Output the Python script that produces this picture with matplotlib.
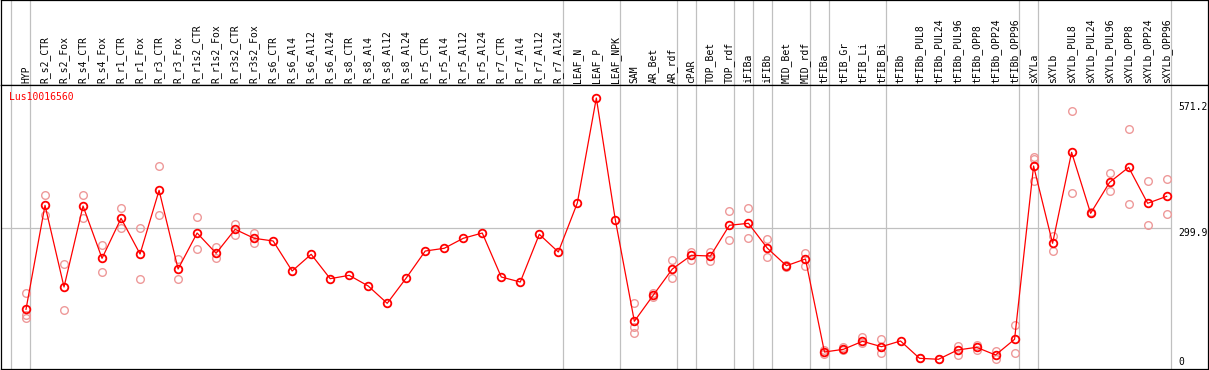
#発現プロファイル　Lus10016560

import matplotlib.pyplot as plt
import numpy as np

#データ
labels = ["HYP",
          "R_s2_CTR", "R_s2_Fox", "R_s4_CTR", "R_s4_Fox", "R_r1_CTR", "R_r1_Fox",
          "R_r3_CTR", "R_r3_Fox", "R_r1s2_CTR", "R_r1s2_Fox", "R_r3s2_CTR", "R_r3s2_Fox",
          "R_s6_CTR", "R_s6_Al4", "R_s6_Al12", "R_s6_Al24",
          "R_s8_CTR", "R_s8_Al4", "R_s8_Al12", "R_s8_Al24",
          "R_r5_CTR", "R_r5_Al4", "R_r5_Al12", "R_r5_Al24",
          "R_r7_CTR", "R_r7_Al4", "R_r7_Al12", "R_r7_Al24",
          "LEAF_N", "LEAF_P", "LEAF_NPK",
          "SAM", "AR_Bet", "AR_rdf",
          "cPAR",
          "TOP_Bet", "TOP_rdf",
          "iFIBa",
          "iFIBb",
          "MID_Bet", "MID_rdf",
          "tFIBa",
          "tFIB_Gr", "tFIB_Li", "tFIB_Bi",
          "tFIBb", "tFIBb_PUL8", "tFIBb_PUL24", "tFIBb_PUL96",
          "tFIBb_OPP8", "tFIBb_OPP24", "tFIBb_OPP96",
          "sXYLa",
          "sXYLb", "sXYLb_PUL8", "sXYLb_PUL24", "sXYLb_PUL96",
          "sXYLb_OPP8", "sXYLb_OPP24", "sXYLb_OPP96"]

#グループの大きさ（区切り線の位置）
group_sizes = [1, 28, 3, 3, 1, 2, 1, 1, 2, 1, 3, 7, 1, 7]

#平均値
mean_values = [131.3,
               347.8, 177.7, 346.3, 237.4, 320.7, 246.4,
               379.0, 215.2, 290.1, 247.9, 297.8, 279.1,
               273.5, 211.0, 245.8, 195.0,
               202.0, 179.8, 143.7, 196.4,
               252.6, 258.3, 279.1, 290.1,
               198.5, 188.1, 287.4, 250.6,
               352.6, 571.2, 317.2,
               106.3, 161.0, 215.2,
               243.7,
               242.2, 306.2,
               310.3,
               258.3,
               222.0, 236.0,
               42.3,
               48.0, 64.6, 53.4,
               65.3, 29.2, 27.2, 46.5,
               52.1, 36.1, 68.8,
               429.6,
               268.7, 458.1, 331.1, 395.7,
               426.9, 352.0, 366.5]

#反復ごとの値（ない列は空）
replicates = [[164.6, 119.4, 113.8],
              [368.6, 327.0], [224.9, 129.2], [368.6, 322.0], [264.5, 208.3],
              [341.5, 299.9], [299.9, 194.3], [429.6, 327.0], [235.4, 193.7],
              [322.8, 256.2], [260.3, 238.7], [308.9, 286.6], [289.5, 269.3],
              [], [], [], [],
              [], [], [], [],
              [], [], [], [],
              [], [], [], [],
              [], [], [],
              [143.7, 95.0, 81.3], [157.5, 165.2], [233.9, 195.8],
              [251.2, 233.9],
              [251.2, 232.0], [335.9, 275.5],
              [341.5, 279.1],
              [277.0, 239.5],
              [224.0, 220.0], [247.9, 222.0],
              [38.2, 46.5],
              [52.1, 46.5], [73.0, 61.1], [70.0, 40.9],
              [], [29.2], [27.2], [54.8, 36.1],
              [56.9, 46.5], [45.1, 27.2], [98.6, 40.9],
              [447.7, 443.6, 398.4],
              [283.9, 253.3], [543.5, 372.8], [333.2], [414.4, 378.2],
              [506.0, 349.9], [397.8, 306.2], [402.5, 329.1]]

scale_values = [571.2, 299.9, 0]
gene_name = "Lus10016560"

plt.rcParams['font.family'] = ['DejaVu Sans Mono']
plt.rcParams['font.size'] = 7

W, H = 1209, 370
fig = plt.figure(figsize=(W / 100, H / 100), dpi=100)

#ヘッダー（ラベル）と本体の2つの画用紙
ax_head = fig.add_axes([1 / W, (H - 85) / H, 1207 / W, 85 / H])
ax = fig.add_axes([1 / W, 1 / H, 1207 / W, 284 / H])

x = np.arange(len(labels))
xlim = ((1 - 26) / 19.011, (1208 - 26) / 19.011)

for a in (ax_head, ax):
    a.set_xlim(xlim)
    a.set_xticks([])
    a.set_yticks([])
    for s in a.spines.values():
        s.set_color("black")
        s.set_linewidth(0.9)

ax_head.set_ylim(0, 1)
ax.set_ylim(6.95, 598.3)

#区切り線
bounds = np.concatenate([[-1], np.cumsum(group_sizes) - 1]) + 0.23
for b in bounds:
    ax_head.axvline(b, color="#c0c0c0", linewidth=0.9, zorder=0)
    ax.axvline(b, color="#c0c0c0", linewidth=0.9, zorder=0)

ax.hlines(scale_values[1], xlim[0], bounds[-1], color="#c0c0c0", linewidth=0.9, zorder=0)

#ラベル
for i, lab in enumerate(labels):
    ax_head.text(i, 0.025, lab, rotation=90, ha="center", va="bottom", fontsize=7)

#反復の点
for i, reps in enumerate(replicates):
    if reps:
        ax.plot([i] * len(reps), reps, linestyle="none", marker="o", markersize=5.5,
                markerfacecolor="none", markeredgecolor="#ee9999", markeredgewidth=1.0,
                zorder=2)

#平均値の線
ax.plot(x, mean_values, color="#ff0000", linewidth=0.9, marker="o", markersize=5.5,
        markerfacecolor="none", markeredgecolor="#ff0000", markeredgewidth=1.3, zorder=3)

#右側の目盛り
label_y = [0.9225, 0.48, 0.0257]
for v, fy in zip(scale_values, label_y):
    txt = "0" if v == 0 else f"{v:.1f}"
    ax.text((1178 - 1) / 1207, fy, txt, transform=ax.transAxes,
            ha="left", va="center", fontsize=7)

ax.text((9.3 - 1) / 1207, 0.9567, gene_name, transform=ax.transAxes,
        ha="left", va="center", color="#ff0000", fontsize=7)

fig.savefig("out.png", dpi=100)
